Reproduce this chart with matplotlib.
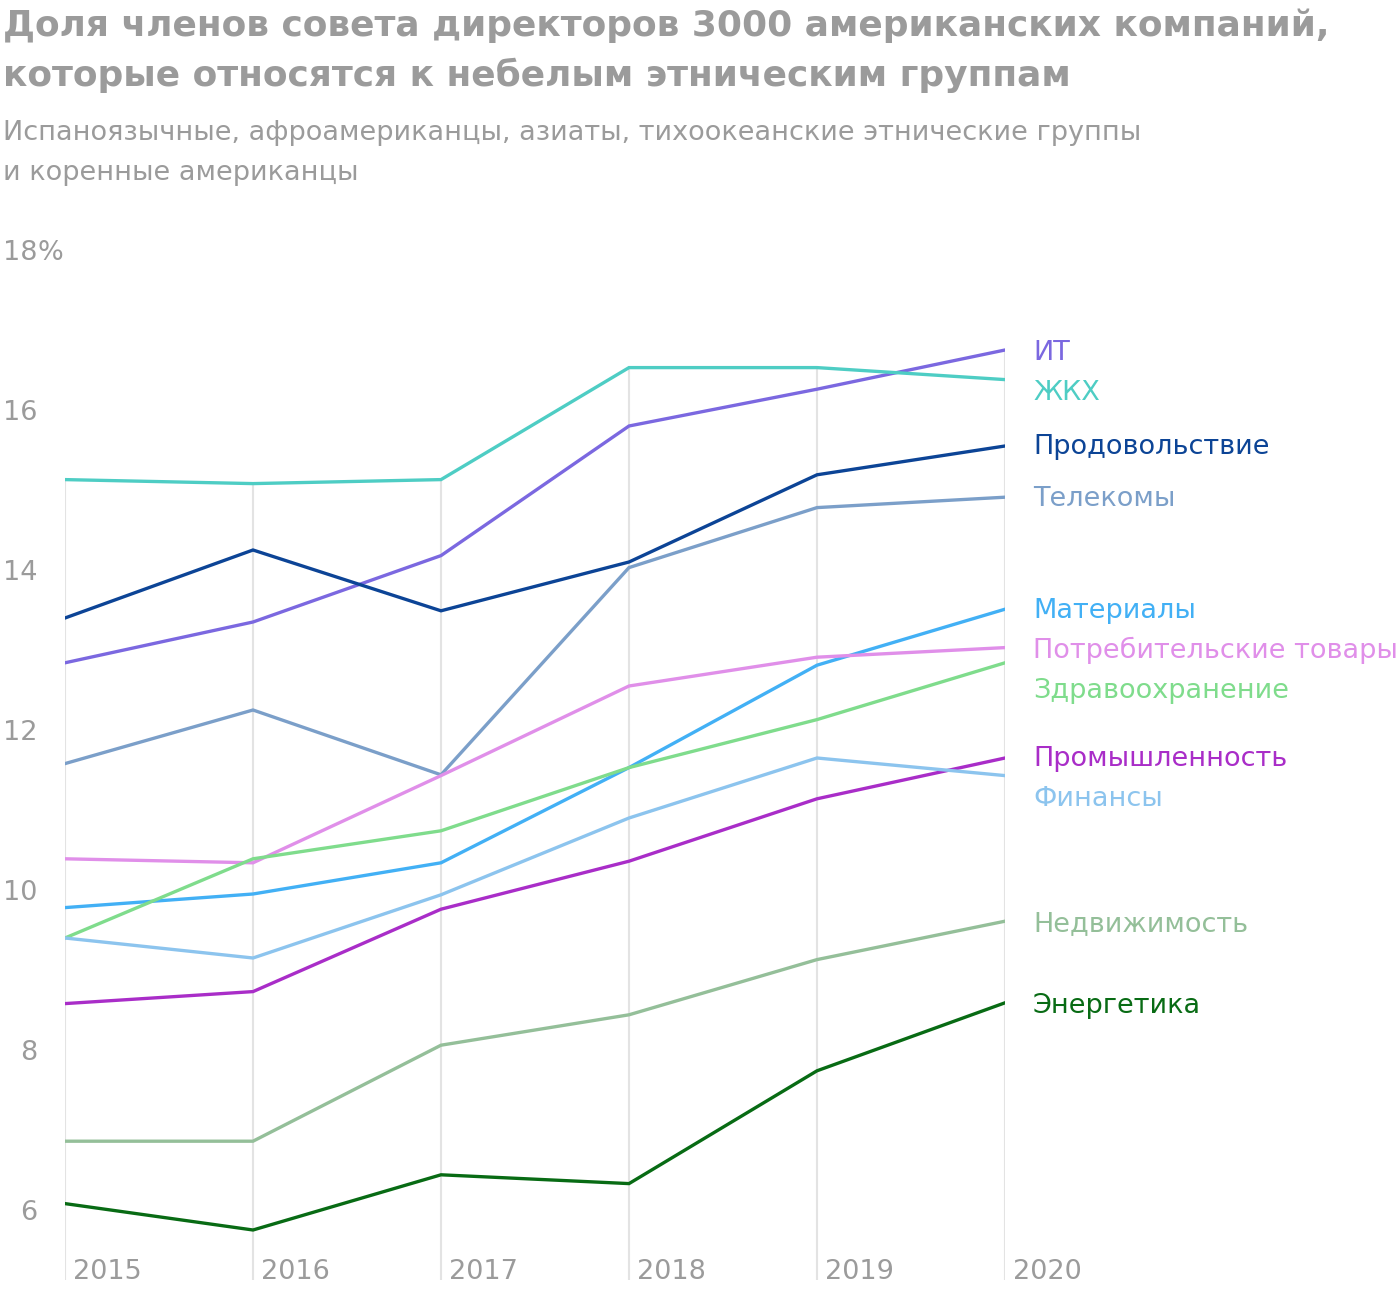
import matplotlib
matplotlib.use("Agg")
from matplotlib import pyplot as plt

plt.rcParams['font.family'] = ['DejaVu Sans']

years = [2015, 2016, 2017, 2018, 2019, 2020]

sectors = ['ИТ', 'ЖКХ', 'Продовольствие', 'Телекомы', 'Материалы',
           'Потребительские товары', 'Здравоохранение', 'Промышленность',
           'Финансы', 'Недвижимость', 'Энергетика']

it = [12.84, 13.35, 14.18, 15.80, 16.26, 16.75]
utilities = [15.13, 15.08, 15.13, 16.53, 16.53, 16.38]
food = [13.40, 14.25, 13.49, 14.10, 15.19, 15.55]
telecom = [11.58, 12.25, 11.44, 14.03, 14.78, 14.91]
materials = [9.78, 9.95, 10.34, 11.53, 12.81, 13.51]
consumer = [10.39, 10.34, 11.43, 12.55, 12.91, 13.03]
health = [9.40, 10.39, 10.74, 11.53, 12.13, 12.84]
industry = [8.58, 8.73, 9.76, 10.36, 11.14, 11.65]
finance = [9.40, 9.15, 9.94, 10.90, 11.65, 11.43]
realty = [6.86, 6.86, 8.06, 8.44, 9.13, 9.61]
energy = [6.08, 5.75, 6.44, 6.33, 7.74, 8.59]

series = [it, utilities, food, telecom, materials, consumer, health,
          industry, finance, realty, energy]

colors = ['#7b68e0', '#4ecdc4', '#0c4496', '#7b9fc9', '#42b0f5', '#e08fe9',
          '#7fdc8c', '#a92dc8', '#8cc4ee', '#94bf99', '#086b14']

# label position minus line end, in pixels (positive = lower)
label_nudge = [0, 10, -2, -1, -1, 0, 25, -2, 20, 0, 0]

yticks = [6, 8, 10, 12, 14, 16, 18]

W, H = 1400, 1292
fig = plt.figure(figsize=(W / 100, H / 100), dpi=100)
ax = fig.add_axes([65 / W, 12 / H, 940 / W, 1030 / H])
ax.set_xlim(years[0], years[-1])
ax.set_ylim(5.125, 18)
ax.axis('off')

# gridlines: from the top line down to the bottom
tops = [max(s[i] for s in series) for i in range(len(years))]
ax.vlines(years, 5.125, tops, color='#e3e3e3', lw=1.5, zorder=1)

for s, c in zip(series, colors):
    ax.plot(years, s, color=c, lw=2.4, zorder=2, solid_joinstyle='miter')

for name, s, c, dy in zip(sectors, series, colors, label_nudge):
    ax.annotate(name, (years[-1], s[-1]), xytext=(28, -dy - 10),
                textcoords='offset pixels', color=c, fontsize=19.5,
                ha='left', va='baseline', annotation_clip=False)

grey = '#9b9b9b'
for v in yticks:
    ax.annotate(str(v), (years[0], v), xytext=(-28, -10),
                textcoords='offset pixels', color=grey, fontsize=19.5,
                ha='right', va='baseline', annotation_clip=False)
    if v == yticks[-1]:
        ax.annotate('%', (years[0], v), xytext=(-28, -10),
                    textcoords='offset pixels', color=grey, fontsize=19.5,
                    ha='left', va='baseline', annotation_clip=False)

for yr in years:
    ax.annotate(str(yr), (yr, 5.125), xytext=(8, 1),
                textcoords='offset pixels', color=grey, fontsize=19.5,
                ha='left', va='baseline', annotation_clip=False)

fig.text(3 / W, 1 - 36 / H,
         'Доля членов совета директоров 3000 американских компаний,',
         color=grey, fontsize=25.9, fontweight='bold', va='baseline')
fig.text(3 / W, 1 - 86 / H,
         'которые относятся к небелым этническим группам',
         color=grey, fontsize=25.9, fontweight='bold', va='baseline')
fig.text(3 / W, 1 - 140 / H,
         'Испаноязычные, афроамериканцы, азиаты, тихоокеанские этнические группы',
         color=grey, fontsize=19.5, va='baseline')
fig.text(3 / W, 1 - 180 / H, 'и коренные американцы',
         color=grey, fontsize=19.5, va='baseline')

fig.savefig('out.png', dpi=100)
